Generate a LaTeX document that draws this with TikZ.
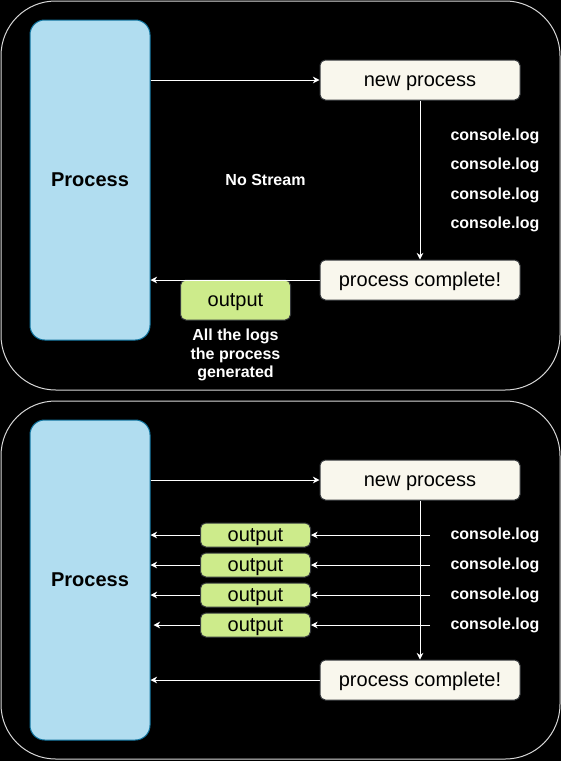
\documentclass[tikz,border=0pt]{standalone}
\usepackage{fontspec}
\setmainfont{Liberation Sans}
\usepackage{xcolor}
\usetikzlibrary{arrows.meta}
\definecolor{procfill}{HTML}{B1DDF0}
\definecolor{procline}{HTML}{10739E}
\definecolor{stepfill}{HTML}{F9F7ED}
\definecolor{stepline}{HTML}{36393D}
\definecolor{outfill}{HTML}{CDEB8B}
\definecolor{panelline}{HTML}{D8D8D8}
\tikzset{
  panel/.style={draw=panelline, line width=0.75pt, rounded corners=41pt},
  procbox/.style={draw=procline, fill=procfill, line width=0.75pt, rounded corners=11pt,
    minimum width=90pt, minimum height=240pt, inner sep=0pt, font=\bfseries\fontsize{15}{18}\selectfont},
  stepbox/.style={draw=stepline, fill=stepfill, line width=0.75pt, rounded corners=4pt,
    minimum width=150pt, minimum height=30pt, inner sep=0pt, text height=11pt, text depth=1pt,
    font=\fontsize{15}{18}\selectfont},
  outbox/.style={draw=stepline, fill=outfill, line width=0.75pt, rounded corners=4pt,
    minimum width=82.5pt, inner sep=0pt, text height=11pt, text depth=1pt,
    font=\fontsize{15}{18}\selectfont},
  lbl/.style={text=white, inner sep=0pt, font=\bfseries\fontsize{12}{13.9}\selectfont},
  arr/.style={draw=white, line width=0.75pt, -{Stealth[length=5pt,width=5pt]}}
}
\begin{document}
\begin{tikzpicture}[x=0.75pt,y=-0.75pt]
  %LATAR
  \fill[black] (0,0) rectangle (561,761);
  \useasboundingbox (0,0) rectangle (561,761);
  %PANEL ATAS: NO STREAM
  \draw[panel] (1,1) rectangle (560,390);
  \node[procbox] (proc1) at (90,180) {Process};
  \node[stepbox] (new1) at (420,80) {new process};
  \node[stepbox] (done1) at (420,280) {process complete!};
  \node[outbox, minimum height=30pt] (out0) at (235.5,300) {output};
  \node[lbl] (nostream) at (265.5,180) {No Stream};
  \node[lbl, align=center] (alllogs) at (235.5,355) {All the logs\\the process\\generated};
  \foreach \i/\y in {1/136,2/165,3/195,4/224}
    \node[lbl] (log\i) at (495,\y) {console.log};
  \draw[arr] (new1.west -| proc1.east) -- (new1.west);
  \draw[arr] (new1.south) -- (done1.north);
  \draw[arr] (done1.west) -- (done1.west -| proc1.east);
  %PANEL BAWAH: STREAM
  \draw[panel] (1,401) rectangle (560,759);
  \node[procbox] (proc2) at (90,580) {Process};
  \node[stepbox] (new2) at (420,480) {new process};
  \node[stepbox] (done2) at (420,680) {process complete!};
  \draw[arr] (new2.west -| proc2.east) -- (new2.west);
  \draw[arr] (new2.south) -- (done2.north);
  \draw[arr] (done2.west) -- (done2.west -| proc2.east);
  \foreach \i/\y/\gap in {1/535/0,2/565/0,3/595/0,4/625/2.25} {
    \node[outbox, minimum height=18pt] (out\i) at (255.5,\y) {output};
    \node[lbl] (slog\i) at (495,\y) {console.log};
    \coordinate (src\i) at (430,\y);
    \draw[arr] (src\i) -- (out\i.east);
    \draw[arr, shorten >=\gap pt] (out\i.west) -- (out\i.west -| proc2.east);
  }
\end{tikzpicture}
\end{document}
